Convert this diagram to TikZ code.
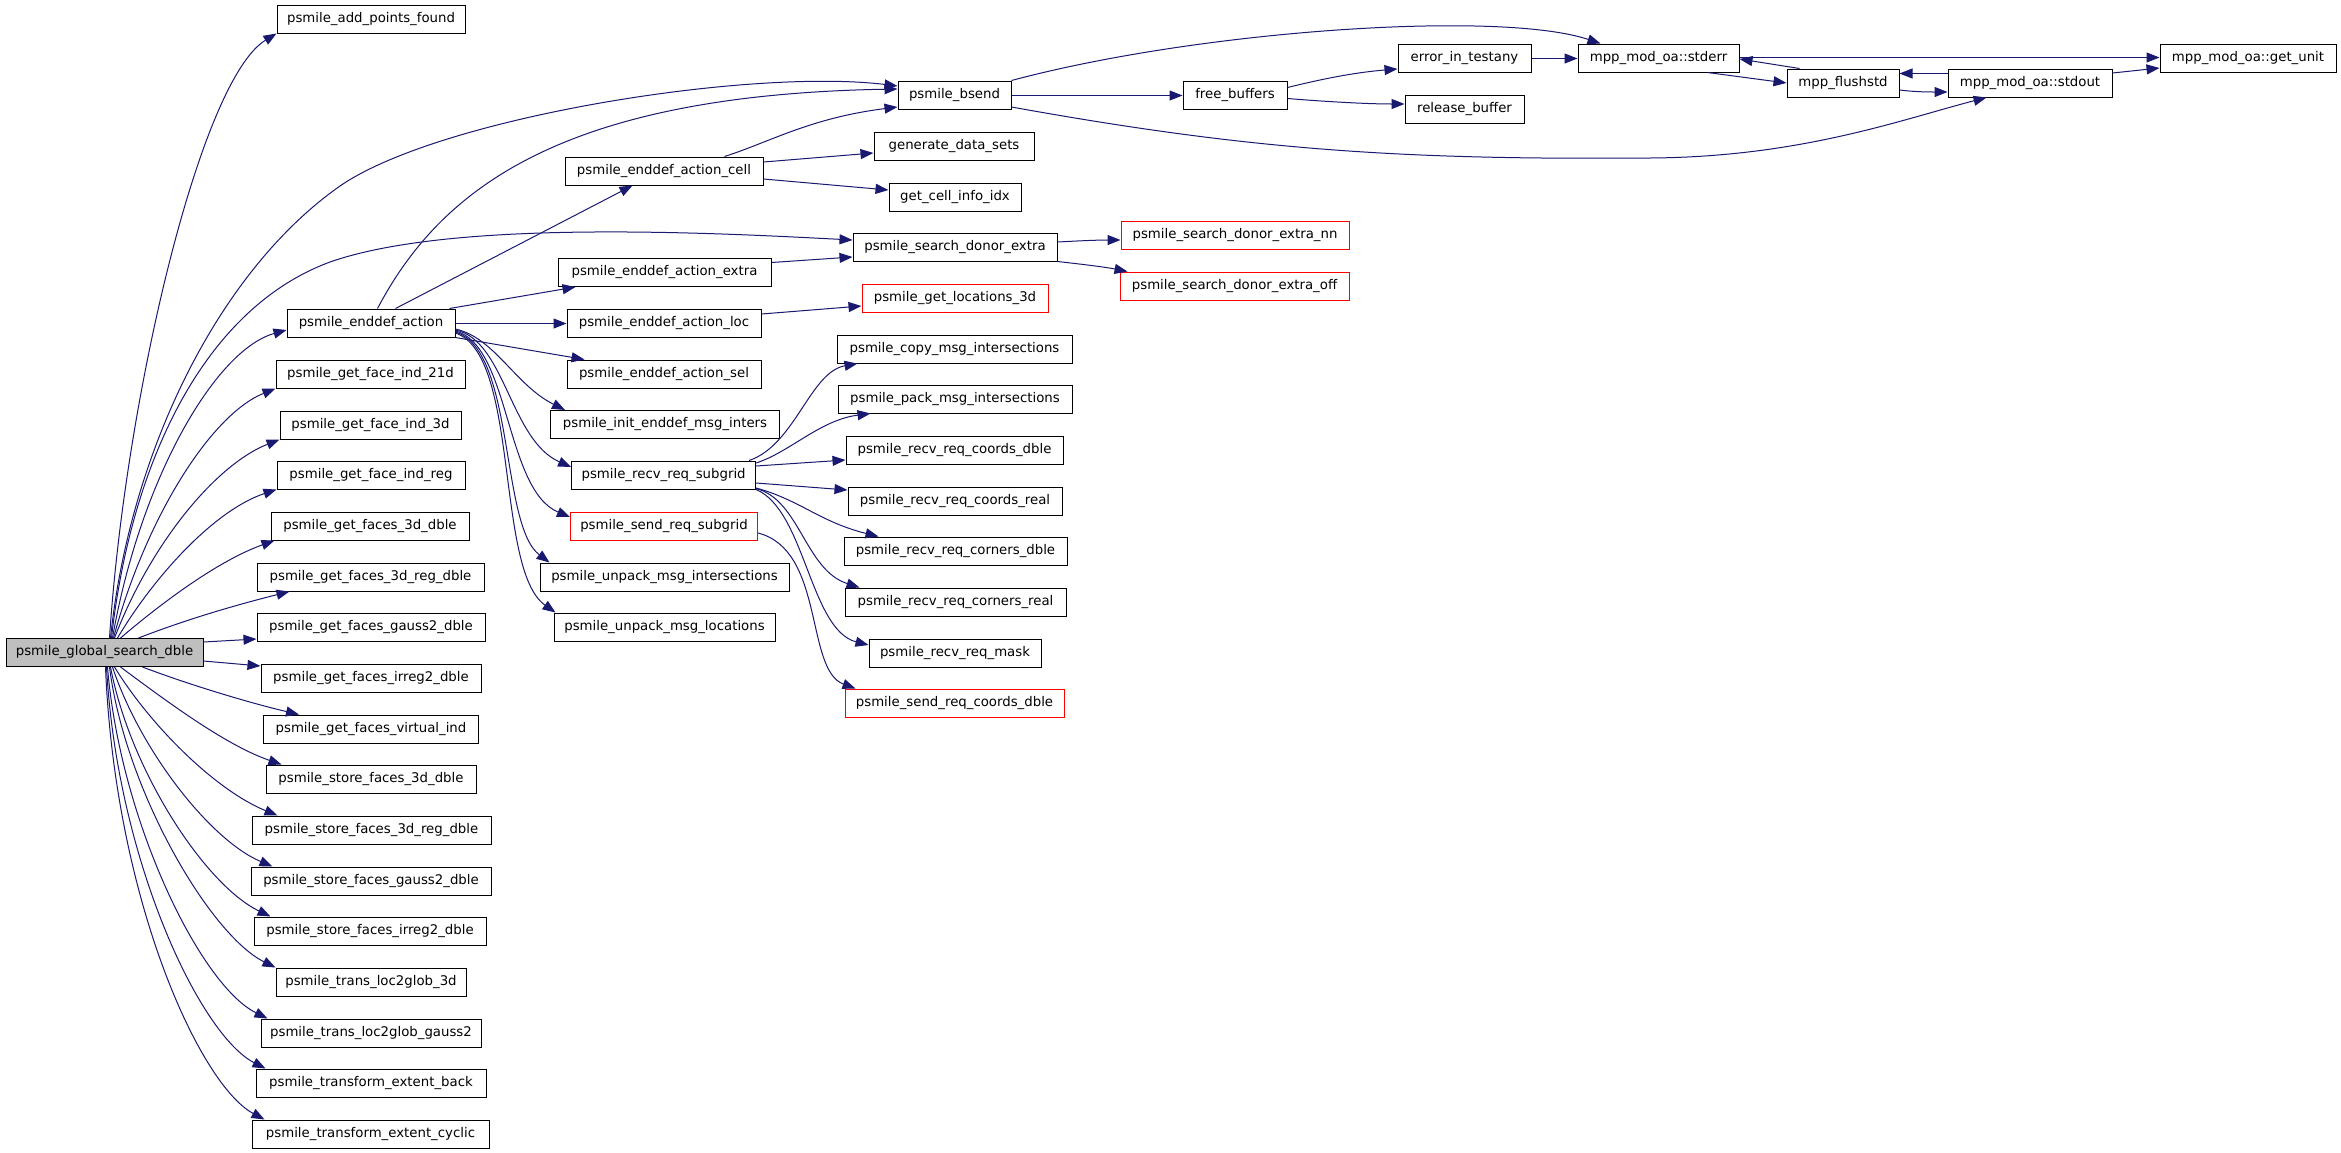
\documentclass[tikz,border=0pt]{standalone}
\usepackage{fontspec}
\setmainfont{DejaVu Sans}
\usetikzlibrary{arrows.meta}
\definecolor{edgec}{HTML}{191970}
\definecolor{gsgray}{HTML}{BFBFBF}
\begin{document}
\begin{tikzpicture}[x=1pt,y=-1pt,
  box/.style={draw=black, line width=1pt, fill=white, minimum height=28pt, inner sep=0pt, font=\fontsize{13.3pt}{15pt}\selectfont},
  redbox/.style={box, draw=red},
  conn/.style={draw=edgec, line width=1pt, -{Triangle[length=13pt,width=10pt]}}]
\fill[white] (0,0) rectangle (2341,1152);
\useasboundingbox (0,0) rectangle (2341,1152);

% root
\node[box, fill=gsgray, minimum width=197pt] (gs) at (104.5,652.5) {psmile\_global\_search\_dble};

% column 2
\node[box, minimum width=188pt] (apf) at (371,19) {psmile\_add\_points\_found};
\node[box, minimum width=168pt] (ea) at (371,323) {psmile\_enddef\_action};
\node[box, minimum width=189pt] (fi21) at (370.5,374) {psmile\_get\_face\_ind\_21d};
\node[box, minimum width=181pt] (fi3d) at (370.5,425) {psmile\_get\_face\_ind\_3d};
\node[box, minimum width=188pt] (fireg) at (371,475) {psmile\_get\_face\_ind\_reg};
\node[box, minimum width=198pt] (f3d) at (370,526) {psmile\_get\_faces\_3d\_dble};
\node[box, minimum width=227pt] (f3dreg) at (370.5,577) {psmile\_get\_faces\_3d\_reg\_dble};
\node[box, minimum width=228pt] (fg2) at (371,627) {psmile\_get\_faces\_gauss2\_dble};
\node[box, minimum width=220pt] (fir2) at (371,678) {psmile\_get\_faces\_irreg2\_dble};
\node[box, minimum width=215pt] (fvi) at (371,729) {psmile\_get\_faces\_virtual\_ind};
\node[box, minimum width=210pt] (s3d) at (371,779) {psmile\_store\_faces\_3d\_dble};
\node[box, minimum width=239pt] (s3dreg) at (371.5,830) {psmile\_store\_faces\_3d\_reg\_dble};
\node[box, minimum width=240pt] (sg2) at (371,881) {psmile\_store\_faces\_gauss2\_dble};
\node[box, minimum width=232pt] (sir2) at (370,931) {psmile\_store\_faces\_irreg2\_dble};
\node[box, minimum width=190pt] (tl3d) at (371,982) {psmile\_trans\_loc2glob\_3d};
\node[box, minimum width=220pt] (tlg2) at (371,1033) {psmile\_trans\_loc2glob\_gauss2};
\node[box, minimum width=230pt] (teb) at (371,1083) {psmile\_transform\_extent\_back};
\node[box, minimum width=237pt] (tec) at (370.5,1134) {psmile\_transform\_extent\_cyclic};

% column 3
\node[box, minimum width=198pt] (eacell) at (664,171) {psmile\_enddef\_action\_cell};
\node[box, minimum width=213pt] (eaextra) at (664.5,272.5) {psmile\_enddef\_action\_extra};
\node[box, minimum width=194pt] (ealoc) at (664,323) {psmile\_enddef\_action\_loc};
\node[box, minimum width=194pt] (easel) at (664,374) {psmile\_enddef\_action\_sel};
\node[box, minimum width=229pt] (init) at (665,424.5) {psmile\_init\_enddef\_msg\_inters};
\node[box, minimum width=184pt] (rrs) at (663.6,475) {psmile\_recv\_req\_subgrid};
\node[redbox, minimum width=187pt] (srs) at (664,526) {psmile\_send\_req\_subgrid};
\node[box, minimum width=249pt] (umi) at (664.5,577) {psmile\_unpack\_msg\_intersections};
\node[box, minimum width=221pt] (uml) at (664.5,627) {psmile\_unpack\_msg\_locations};

% column 4
\node[box, minimum width=113pt] (bsend) at (954.5,95) {psmile\_bsend};
\node[box, minimum width=160pt] (gds) at (954,146) {generate\_data\_sets};
\node[box, minimum width=132pt] (gcii) at (955,197) {get\_cell\_info\_idx};
\node[box, minimum width=204pt] (sde) at (955,247) {psmile\_search\_donor\_extra};
\node[redbox, minimum width=186pt] (gl3d) at (955,298) {psmile\_get\_locations\_3d};
\node[box, minimum width=235pt] (copy) at (954.5,349) {psmile\_copy\_msg\_intersections};
\node[box, minimum width=234pt] (pack) at (955,399) {psmile\_pack\_msg\_intersections};
\node[box, minimum width=217pt] (rcd) at (954.5,450) {psmile\_recv\_req\_coords\_dble};
\node[box, minimum width=214pt] (rcr) at (955,501) {psmile\_recv\_req\_coords\_real};
\node[box, minimum width=223pt] (rcod) at (955.5,551) {psmile\_recv\_req\_corners\_dble};
\node[box, minimum width=221pt] (rcor) at (955.5,602) {psmile\_recv\_req\_corners\_real};
\node[box, minimum width=172pt] (rmask) at (955,653) {psmile\_recv\_req\_mask};
\node[redbox, minimum width=219pt] (scd) at (954.5,703) {psmile\_send\_req\_coords\_dble};

% column 5
\node[box, minimum width=104pt] (fb) at (1235,95.5) {free\_buffers};
\node[redbox, minimum width=228pt] (nn) at (1235,235) {psmile\_search\_donor\_extra\_nn};
\node[redbox, minimum width=229pt] (off) at (1234.5,286) {psmile\_search\_donor\_extra\_off};

% column 6
\node[box, minimum width=133pt] (eit) at (1464.5,58) {error\_in\_testany};
\node[box, minimum width=119pt] (rb) at (1464.5,109) {release\_buffer};

% column 7
\node[box, minimum width=161pt] (stderr) at (1658.5,58) {mpp\_mod\_oa::stderr};
\node[box, minimum width=112pt] (flush) at (1843,83) {mpp\_flushstd};
\node[box, minimum width=164pt] (stdout) at (2030,83) {mpp\_mod\_oa::stdout};
\node[box, minimum width=176pt] (getunit) at (2248,58) {mpp\_mod\_oa::get\_unit};

% ---- edges from root, upward
\draw[conn] ([xshift=104pt]gs.north west) .. controls (125,400) and (200,80) .. (apf.south west);
\draw[conn] ([xshift=105pt]gs.north west) .. controls (130,450) and (220,270) .. (340,186)
   .. controls (440,117) and (750,68) .. ([yshift=9pt]bsend.west);
\draw[conn] ([xshift=106pt]gs.north west) .. controls (130,470) and (200,310) .. (330,262)
   .. controls (450,220) and (700,232) .. ([yshift=7pt]sde.west);
\draw[conn] ([xshift=107pt]gs.north west) .. controls (140,480) and (215,350) .. ([yshift=-7pt]ea.west);
\draw[conn] ([xshift=108pt]gs.north west) .. controls (145,520) and (210,415) .. (fi21.south west);
\draw[conn] ([xshift=109pt]gs.north west) .. controls (150,545) and (215,465) .. (fi3d.south west);
\draw[conn] ([xshift=112pt]gs.north west) .. controls (155,575) and (215,510) .. (fireg.south west);
\draw[conn] ([xshift=115pt]gs.north west) .. controls (165,600) and (220,560) .. ([xshift=4pt]f3d.south west);
\draw[conn] ([xshift=133pt]gs.north west) .. controls (190,618) and (240,604) .. ([xshift=33pt]f3dreg.south west);
\draw[conn] ([yshift=10.5pt]gs.east) -- ([yshift=-12pt]fg2.west);
\draw[conn] ([yshift=-8.5pt]gs.east) -- ([yshift=12pt]fir2.west);
% ---- edges from root, downward
\draw[conn] ([xshift=137pt]gs.south west) .. controls (190,685) and (250,703) .. ([xshift=36pt]fvi.north west);
\draw[conn] ([xshift=115pt]gs.south west) .. controls (165,700) and (225,745) .. ([xshift=16pt]s3d.north west);
\draw[conn] ([xshift=109pt]gs.south west) .. controls (150,725) and (215,790) .. ([xshift=26pt]s3dreg.north west);
\draw[conn] ([xshift=107pt]gs.south west) .. controls (140,750) and (210,840) .. ([xshift=22pt]sg2.north west);
\draw[conn] ([xshift=105pt]gs.south west) .. controls (130,770) and (205,885) .. ([xshift=17pt]sir2.north west);
\draw[conn] ([xshift=104pt]gs.south west) .. controls (125,790) and (210,935) .. (tl3d.north west);
\draw[conn] ([xshift=102pt]gs.south west) .. controls (120,820) and (200,985) .. ([xshift=7pt]tlg2.north west);
\draw[conn] ([xshift=101pt]gs.south west) .. controls (117,860) and (200,1035) .. ([xshift=10pt]teb.north west);
\draw[conn] ([xshift=100pt]gs.south west) .. controls (115,900) and (200,1085) .. ([xshift=13pt]tec.north west);

% ---- enddef_action
\draw[conn] ([xshift=91pt]ea.north west) .. controls (440,190) and (560,95) .. ([yshift=6pt]bsend.west);
\draw[conn] ([xshift=109pt]ea.north west) -- ([xshift=68pt]eacell.south west);
\draw[conn] ([xshift=163pt]ea.north west) -- ([xshift=18pt]eaextra.south west);
\draw[conn] ([yshift=-0.5pt]ea.east) -- ([yshift=-0.5pt]ealoc.west);
\draw[conn] (ea.south east) -- ([xshift=18pt]easel.north west);
\draw[conn] ([yshift=-6pt]ea.east) .. controls (495,338) and (515,385) .. ([xshift=15pt]init.north west);
\draw[conn] ([yshift=-7pt]ea.east) .. controls (505,340) and (510,440) .. ([yshift=8pt]rrs.west);
\draw[conn] ([yshift=-8pt]ea.east) .. controls (510,345) and (505,490) .. ([yshift=9pt]srs.west);
\draw[conn] ([yshift=-9pt]ea.east) .. controls (515,350) and (500,525) .. ([xshift=10pt]umi.north west);
\draw[conn] ([yshift=-10pt]ea.east) .. controls (520,355) and (495,570) .. ([xshift=2pt]uml.north west);

% ---- enddef_action_cell / extra / loc
\draw[conn] ([xshift=160pt]eacell.north west) .. controls (770,142) and (810,118) .. ([yshift=-12pt]bsend.west);
\draw[conn] ([yshift=9pt]eacell.east) -- ([yshift=-7pt]gds.west);
\draw[conn] ([yshift=-8pt]eacell.east) -- ([yshift=7pt]gcii.west);
\draw[conn] ([yshift=10pt]eaextra.east) -- ([yshift=-10pt]sde.west);
\draw[conn] ([yshift=9pt]ealoc.east) -- ([yshift=-8pt]gl3d.west);

% ---- search_donor_extra
\draw[conn] ([yshift=5pt]sde.east) .. controls (1085,240.5) and (1100,240) .. ([yshift=-5pt]nn.west);
\draw[conn] (sde.south east) .. controls (1080,264) and (1105,267) .. ([xshift=8pt]off.north west);

% ---- recv_req_subgrid
\draw[conn] ([xshift=-7pt]rrs.north east) .. controls (795,445) and (810,372) .. ([xshift=21pt]copy.south west);
\draw[conn] ([yshift=12pt]rrs.east) .. controls (790,452) and (820,420) .. ([xshift=33pt]pack.south west);
\draw[conn] ([yshift=9pt]rrs.east) -- ([yshift=-10pt]rcd.west);
\draw[conn] ([yshift=-8pt]rrs.east) -- ([yshift=11pt]rcr.west);
\draw[conn] ([yshift=-13pt]rrs.east) .. controls (800,500) and (820,522) .. ([xshift=35pt]rcod.north west);
\draw[conn] ([yshift=-13.5pt]rrs.east) .. controls (800,500) and (805,570) .. ([xshift=15pt]rcor.north west);
\draw[conn] (rrs.south east) .. controls (805,510) and (810,630) .. ([yshift=8pt]rmask.west);
\draw[conn] ([yshift=-7pt]srs.east) .. controls (825,550) and (805,670) .. ([xshift=11pt]scd.north west);

% ---- bsend
\draw[conn] ([yshift=-0.5pt]bsend.east) -- (fb.west);
\draw[conn] (bsend.north east) .. controls (1200,30) and (1500,10) .. ([xshift=23pt]stderr.north west);
\draw[conn] ([yshift=-12pt]bsend.east) .. controls (1250,150) and (1400,160) .. (1650,158)
   .. controls (1800,157) and (1900,120) .. ([xshift=39pt]stdout.south west);

% ---- free_buffers
\draw[conn] ([yshift=8pt]fb.east) .. controls (1330,77) and (1360,72) .. ([yshift=-11pt]eit.west);
\draw[conn] ([yshift=-3pt]fb.east) .. controls (1330,102) and (1370,104) .. ([yshift=5pt]rb.west);

% ---- mpp
\draw[conn] ([yshift=-0.5pt]eit.east) -- ([yshift=-0.5pt]stderr.west);
\draw[conn] ([yshift=0.5pt]stderr.east) -- ([yshift=0.5pt]getunit.west);
\draw[conn] ([xshift=-32pt]stderr.south east) -- (flush.west);
\draw[conn] ([xshift=13pt]flush.north west) -- ([yshift=-1pt]stderr.east);
\draw[conn] ([yshift=-7pt]flush.east) .. controls (1915,92) and (1930,92) .. ([yshift=-9pt]stdout.west);
\draw[conn] ([yshift=9.5pt]stdout.west) -- ([yshift=9.5pt]flush.east);
\draw[conn] ([yshift=10pt]stdout.east) -- ([yshift=-10pt]getunit.west);
\end{tikzpicture}
\end{document}
